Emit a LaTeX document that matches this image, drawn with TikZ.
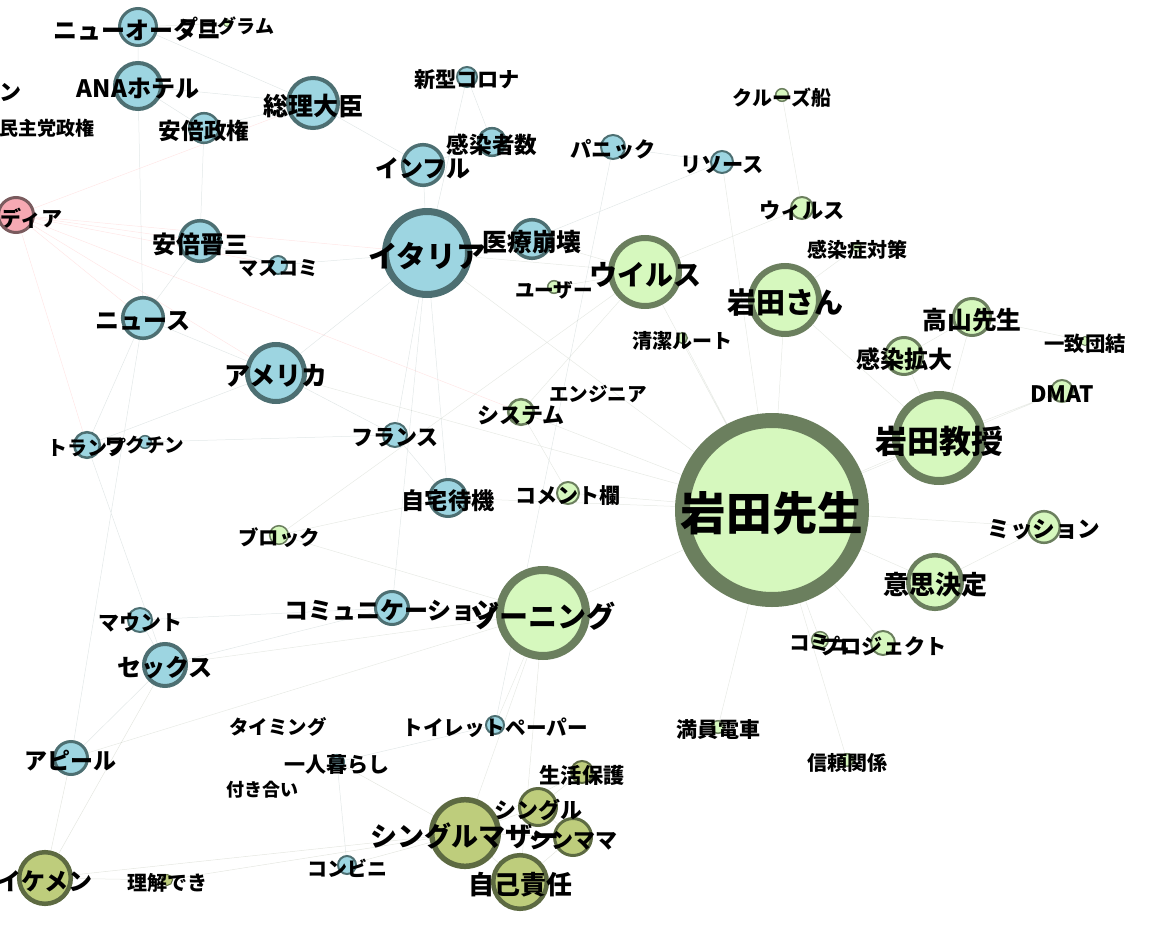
\documentclass[tikz,border=0pt]{standalone}
\usepackage{fontspec}
\setmainfont{Noto Sans CJK JP}
\usepackage{xcolor}
\usepackage{tikz}
\definecolor{TermBlue}{HTML}{9DD5E1}
\definecolor{TermBlueRim}{HTML}{4D6F72}
\definecolor{TermGreen}{HTML}{D6F8BE}
\definecolor{TermGreenRim}{HTML}{6B7F5E}
\definecolor{TermOlive}{HTML}{BECD7C}
\definecolor{TermOliveRim}{HTML}{5D6A42}
\definecolor{TermPink}{HTML}{F6A9B3}
\definecolor{TermPinkRim}{HTML}{7A5B5E}
\pgfdeclarelayer{links}
\pgfsetlayers{links,main}
\tikzset{
  network/.style={x=0.5pt,y=-0.5pt},
  term/.style 2 args={circle,inner sep=0pt,minimum size=#1pt,line width=#2pt},
  blueterm/.style 2 args={term={#1}{#2},fill=TermBlue,draw=TermBlueRim},
  greenterm/.style 2 args={term={#1}{#2},fill=TermGreen,draw=TermGreenRim},
  oliveterm/.style 2 args={term={#1}{#2},fill=TermOlive,draw=TermOliveRim},
  pinkterm/.style 2 args={term={#1}{#2},fill=TermPink,draw=TermPinkRim},
  word/.style={font=\fontsize{#1}{#1}\selectfont\bfseries,inner sep=0pt,yshift=-1.5pt},
  link/.style={draw=#1,line width=0.25pt,opacity=0.16},
}

\begin{document}
\begin{tikzpicture}[network]
  \useasboundingbox (0,0) rectangle (1162,947);

  \node[blueterm={18.5}{1.5}] (otani) at (138,27) {};
  \node[greenterm={3.5}{0.5}] (program) at (227,23) {};
  \node[blueterm={23}{2}] (ana) at (138,86) {};
  \node[blueterm={25}{2}] (souri) at (313,103) {};
  \node[blueterm={14.8}{1.25}] (abeseiken) at (204,128) {};
  \node[pinkterm={17.5}{1.5}] (media) at (16,215) {};
  \node[blueterm={20.3}{1.75}] (abe) at (200,241) {};
  \node[blueterm={9}{1}] (masukomi) at (278,265) {};
  \node[blueterm={41.5}{3.5}] (italia) at (427,253) {};
  \node[blueterm={19.3}{1.75}] (iryou) at (532,239) {};
  \node[blueterm={20.3}{1.75}] (infuru) at (423,165) {};
  \node[blueterm={13.8}{1.25}] (kansensha) at (492,142) {};
  \node[blueterm={10}{1}] (corona) at (467,77) {};
  \node[blueterm={12}{1}] (panic) at (613,147) {};
  \node[blueterm={11}{1}] (resource) at (722,162) {};
  \node[greenterm={6.3}{0.75}] (cruise) at (782,95) {};
  \node[greenterm={11}{1}] (wirusu) at (802,208) {};
  \node[greenterm={4.5}{0.5}] (taisaku) at (857,247) {};
  \node[greenterm={34}{3}] (uirusu) at (645,272) {};
  \node[greenterm={6.3}{0.75}] (user) at (554,287) {};
  \node[greenterm={34}{3}] (iwatasan) at (785,300) {};
  \node[greenterm={18.5}{1.5}] (takayama) at (972,317) {};
  \node[greenterm={4.5}{0.5}] (icchi) at (1085,341) {};
  \node[greenterm={18.5}{1.5}] (kakudai) at (904,356) {};
  \node[greenterm={5.3}{0.75}] (seiketsu) at (682,338) {};
  \node[greenterm={11}{1}] (dmat) at (1062,391) {};
  \node[greenterm={43}{4}] (kyouju) at (939,438) {};
  \node[greenterm={12.8}{1.25}] (system) at (521,412) {};
  \node[blueterm={12}{1}] (france) at (395,435) {};
  \node[blueterm={18.5}{1.5}] (jitaku) at (448,498) {};
  \node[greenterm={11}{1}] (comment) at (568,493) {};
  \node[greenterm={89.5}{7.5}] (sensei) at (772,510) {};
  \node[greenterm={15.8}{1.25}] (mission) at (1044,527) {};
  \node[greenterm={26.8}{2.25}] (ishi) at (935,582) {};
  \node[greenterm={8.3}{0.75}] (komyu) at (820,640) {};
  \node[greenterm={12}{1}] (project) at (883,643) {};
  \node[greenterm={43}{4}] (zoning) at (543,613) {};
  \node[blueterm={16.5}{1.5}] (communication) at (392,608) {};
  \node[blueterm={12}{1}] (mount) at (140,620) {};
  \node[blueterm={21}{2}] (sex) at (165,665) {};
  \node[blueterm={16.5}{1.5}] (appeal) at (71,758) {};
  \node[blueterm={7.3}{0.75}] (hitori) at (337,762) {};
  \node[oliveterm={25.8}{2.25}] (ikemen) at (45,878) {};
  \node[oliveterm={5.5}{0.5}] (rikai) at (167,880) {};
  \node[blueterm={9}{1}] (konbini) at (347,865) {};
  \node[blueterm={9}{1}] (toilet) at (495,725) {};
  \node[greenterm={6.3}{0.75}] (mannin) at (718,727) {};
  \node[greenterm={6.3}{0.75}] (shinrai) at (847,760) {};
  \node[oliveterm={11}{1}] (seikatsu) at (582,772) {};
  \node[oliveterm={18.5}{1.5}] (single) at (538,807) {};
  \node[oliveterm={33.3}{2.75}] (mother) at (465,833) {};
  \node[oliveterm={18.5}{1.5}] (shinmama) at (573,837) {};
  \node[oliveterm={26.8}{2.25}] (jiko) at (520,882) {};
  \node[blueterm={12.8}{1.25}] (trump) at (87,445) {};
  \node[blueterm={6.3}{0.75}] (vaccine) at (145,442) {};
  \node[greenterm={9.3}{0.75}] (block) at (279,535) {};
  \node[blueterm={20.3}{1.75}] (news) at (143,318) {};
  \node[blueterm={28.5}{2.5}] (america) at (276,373) {};

  \begin{pgfonlayer}{links}
    \draw[link=TermBlueRim] (otani) -- (ana) (ana) -- (souri) (ana) -- (abeseiken)
      (souri) -- (abeseiken) (abe) -- (abeseiken) (abe) -- (masukomi) (abe) -- (news)
      (news) -- (america) (america) -- (italia) (italia) -- (infuru) (italia) -- (iryou)
      (infuru) -- (kansensha) (kansensha) -- (corona) (corona) -- (italia)
      (panic) -- (resource) (italia) -- (france) (america) -- (trump) (trump) -- (vaccine)
      (news) -- (trump) (italia) -- (jitaku) (jitaku) -- (france) (communication) -- (sex)
      (sex) -- (mount) (appeal) -- (sex) (mount) -- (communication) (communication) -- (italia)
      (toilet) -- (panic) (konbini) -- (hitori) (souri) -- (infuru) (america) -- (france)
      (news) -- (appeal) (masukomi) -- (italia) (resource) -- (iryou) (toilet) -- (hitori)
      (otani) -- (souri) (ana) -- (news) (trump) -- (sex) (vaccine) -- (france);
    \draw[link=red!60] (media) -- (abe) (media) -- (news) (media) -- (masukomi)
      (media) -- (america) (media) -- (souri) (media) -- (trump) (media) -- (italia)
      (media) -- (system);
    \draw[link=TermGreenRim] (sensei) -- (kyouju) (sensei) -- (iwatasan) (sensei) -- (uirusu)
      (sensei) -- (zoning) (sensei) -- (ishi) (iwatasan) -- (kyouju) (kyouju) -- (takayama)
      (kyouju) -- (kakudai) (kakudai) -- (takayama) (sensei) -- (dmat) (sensei) -- (mission)
      (sensei) -- (project) (sensei) -- (komyu) (sensei) -- (seiketsu) (uirusu) -- (user)
      (uirusu) -- (system) (system) -- (comment) (zoning) -- (block) (sensei) -- (shinrai)
      (sensei) -- (mannin) (uirusu) -- (wirusu) (wirusu) -- (cruise) (iwatasan) -- (taisaku)
      (icchi) -- (takayama) (sensei) -- (comment) (uirusu) -- (iryou) (zoning) -- (communication)
      (zoning) -- (toilet) (sensei) -- (italia) (sensei) -- (america) (uirusu) -- (italia)
      (program) -- (otani) (ishi) -- (mission) (kyouju) -- (dmat) (sensei) -- (system)
      (zoning) -- (mother) (sensei) -- (resource) (block) -- (jitaku) (zoning) -- (sex)
      (zoning) -- (appeal) (uirusu) -- (block) (sensei) -- (jitaku);
    \draw[link=TermOliveRim] (mother) -- (single) (mother) -- (shinmama) (mother) -- (jiko)
      (single) -- (shinmama) (jiko) -- (shinmama) (seikatsu) -- (mother) (ikemen) -- (rikai)
      (ikemen) -- (appeal) (mother) -- (konbini) (ikemen) -- (mother) (mother) -- (hitori)
      (rikai) -- (mother) (seikatsu) -- (single) (ikemen) -- (sex) (jiko) -- (zoning);
  \end{pgfonlayer}

  \node[word=12] (otani-w) at (otani) {ニューオータニ};
  \node[word=9.5] (program-w) at (program) {プログラム};
  \node[word=12] (ana-w) at (ana) {ANAホテル};
  \node[word=12.5] (souri-w) at (souri) {総理大臣};
  \node[word=11.3] (abeseiken-w) at (abeseiken) {安倍政権};
  \node[word=10.5] (media-w) at ([xshift=2.5pt]media) {メディア};
  \node[word=12] (abe-w) at (abe) {安倍晋三};
  \node[word=10] (masukomi-w) at (masukomi) {マスコミ};
  \node[word=14.8] (italia-w) at (italia) {イタリア};
  \node[word=12.4] (iryou-w) at (iryou) {医療崩壊};
  \node[word=12] (infuru-w) at (infuru) {インフル};
  \node[word=11.3] (kansensha-w) at (kansensha) {感染者数};
  \node[word=10.6] (corona-w) at (corona) {新型コロナ};
  \node[word=10.6] (panic-w) at (panic) {パニック};
  \node[word=10.6] (resource-w) at (resource) {リソース};
  \node[word=10] (cruise-w) at (cruise) {クルーズ船};
  \node[word=10.6] (wirusu-w) at (wirusu) {ウィルス};
  \node[word=10] (taisaku-w) at (taisaku) {感染症対策};
  \node[word=14] (uirusu-w) at (uirusu) {ウイルス};
  \node[word=9.8] (user-w) at (user) {ユーザー};
  \node[word=14.5] (iwatasan-w) at (iwatasan) {岩田さん};
  \node[word=12.4] (takayama-w) at (takayama) {高山先生};
  \node[word=10.2] (icchi-w) at (icchi) {一致団結};
  \node[word=12] (kakudai-w) at (kakudai) {感染拡大};
  \node[word=10] (seiketsu-w) at (seiketsu) {清潔ルート};
  \node[word=11.3] (dmat-w) at (dmat) {DMAT};
  \node[word=16] (kyouju-w) at (kyouju) {岩田教授};
  \node[word=11] (system-w) at (system) {システム};
  \node[word=11] (france-w) at (france) {フランス};
  \node[word=11.6] (jitaku-w) at (jitaku) {自宅待機};
  \node[word=10.5] (comment-w) at (comment) {コメント欄};
  \node[word=22.8] (sensei-w) at (sensei) {岩田先生};
  \node[word=11.3] (mission-w) at (mission) {ミッション};
  \node[word=13] (ishi-w) at (ishi) {意思決定};
  \node[word=10.3] (komyu-w) at (komyu) {コミュ};
  \node[word=10.6] (project-w) at (project) {プロジェクト};
  \node[word=14.5] (zoning-w) at (zoning) {ゾーニング};
  \node[word=12] (communication-w) at (communication) {コミュニケーション};
  \node[word=10.5] (mount-w) at (mount) {マウント};
  \node[word=12] (sex-w) at (sex) {セックス};
  \node[word=11.5] (appeal-w) at (appeal) {アピール};
  \node[word=10.5] (hitori-w) at (hitori) {一人暮らし};
  \node[word=12] (ikemen-w) at (ikemen) {イケメン};
  \node[word=10] (rikai-w) at (rikai) {理解でき};
  \node[word=10] (konbini-w) at (konbini) {コンビニ};
  \node[word=10.3] (toilet-w) at (toilet) {トイレットペーパー};
  \node[word=10.5] (mannin-w) at (mannin) {満員電車};
  \node[word=10] (shinrai-w) at (shinrai) {信頼関係};
  \node[word=10.6] (seikatsu-w) at (seikatsu) {生活保護};
  \node[word=11] (single-w) at (single) {シングル};
  \node[word=13.5] (mother-w) at (mother) {シングルマザー};
  \node[word=11] (shinmama-w) at (shinmama) {シンママ};
  \node[word=13] (jiko-w) at (jiko) {自己責任};
  \node[word=10] (trump-w) at (trump) {トランプ};
  \node[word=9.8] (vaccine-w) at (vaccine) {ワクチン};
  \node[word=10.2] (block-w) at (block) {ブロック};
  \node[word=12] (news-w) at (news) {ニュース};
  \node[word=13] (america-w) at (america) {アメリカ};
  \node[word=11] (n-w) at (10,89) {ン};
  \node[word=9.5] (minshu-w) at (47,125) {民主党政権};
  \node[word=9.8] (engineer-w) at (598,391) {エンジニア};
  \node[word=9.7] (timing-w) at (278,724) {タイミング};
  \node[word=9] (tsukiai-w) at (262,787) {付き合い};
\end{tikzpicture}
\end{document}
